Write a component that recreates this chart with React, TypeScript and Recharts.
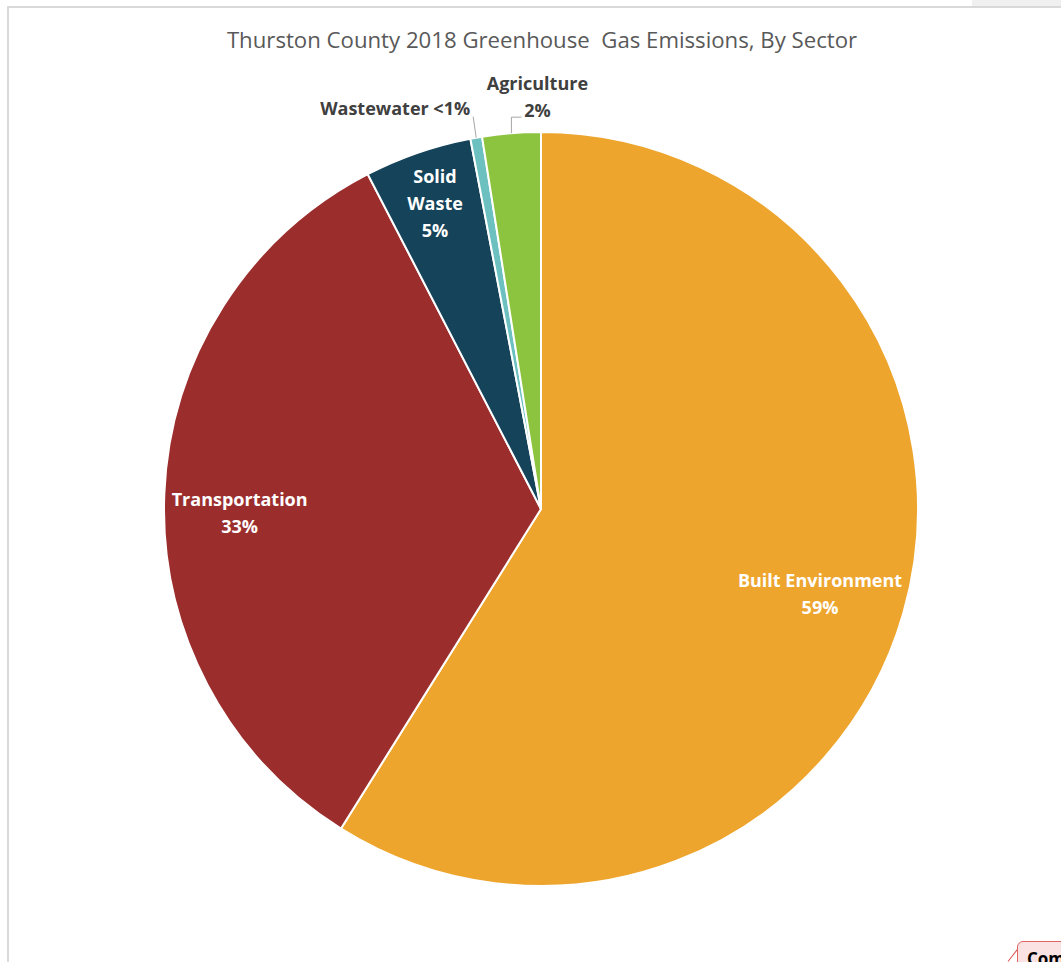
import { PieChart, Pie, Cell } from "recharts";

const sectors = ["Built Environment", "Transportation", "Solid Waste", "Wastewater", "Agriculture"];
const shares = [58.9, 33.5, 4.6, 0.5, 2.5];
const shareLabels = ["59%", "33%", "5%", "<1%", "2%"];
const colors = ["#EDA52D", "#9B2D2D", "#14435A", "#6CC0C0", "#8DC43F"];

const data = sectors.map((name, i) => ({ name, value: shares[i], pct: shareLabels[i] }));

const FONT = "'Open Sans', 'Noto Sans', sans-serif";
const RAD = Math.PI / 180;

// where the inside labels sit: share of outer radius, plus a small vertical nudge
const insideLabel: Record<string, { r: number; dy: number }> = {
  "Built Environment": { r: 0.77, dy: 4 },
  Transportation: { r: 0.8, dy: 16 },
  "Solid Waste": { r: 0.86, dy: 0 },
};

function renderLabel(props: any) {
  const { cx, cy, midAngle, outerRadius, index } = props;
  const d = data[index];
  const cos = Math.cos(-midAngle * RAD);
  const sin = Math.sin(-midAngle * RAD);
  const textStyle = { fontFamily: FONT, fontWeight: 700, fontSize: 18 };

  const inside = insideLabel[d.name];
  if (inside) {
    const r = outerRadius * inside.r;
    const x = cx + r * cos;
    const y = cy + r * sin + inside.dy;
    const lines = d.name === "Solid Waste" ? ["Solid", "Waste", d.pct] : [d.name, d.pct];
    const lh = 27;
    const top = y - ((lines.length - 1) * lh) / 2;
    return (
      <text key={d.name} x={x} textAnchor="middle" fill="#ffffff" style={textStyle}>
        {lines.map((l, k) => (
          <tspan key={k} x={x} y={top + k * lh} dominantBaseline="central">
            {l}
          </tspan>
        ))}
      </text>
    );
  }

  // outside labels with leader lines
  const ex = cx + outerRadius * cos;
  const ey = cy + outerRadius * sin;
  if (d.name === "Wastewater") {
    return (
      <g key={d.name}>
        <path d={`M${ex},${ey} L${ex - 3},${ey - 21}`} stroke="#a6a6a6" strokeWidth={1} fill="none" />
        <text x={ex - 6} y={ey - 30} textAnchor="end" dominantBaseline="central" fill="#404040" style={textStyle}>
          {`${d.name} ${d.pct}`}
        </text>
      </g>
    );
  }
  return (
    <g key={d.name}>
      <path d={`M${ex},${ey} L${ex},${ey - 16} L${ex + 10},${ey - 16}`} stroke="#a6a6a6" strokeWidth={1} fill="none" />
      <text x={ex + 26} y={ey - 50} textAnchor="middle" dominantBaseline="central" fill="#404040" style={textStyle}>
        {d.name}
      </text>
      <text x={ex + 26} y={ey - 23} textAnchor="middle" dominantBaseline="central" fill="#404040" style={textStyle}>
        {d.pct}
      </text>
    </g>
  );
}

export default function App() {
  return (
    <div
      style={{
        position: "absolute",
        left: 0,
        top: 0,
        width: 1061,
        height: 962,
        overflow: "hidden",
        background: "#ffffff",
      }}
    >
      <div style={{ position: "absolute", left: 972, top: 0, width: 89, height: 6, background: "#f0f0f0" }} />
      <div
        style={{
          position: "absolute",
          left: 7,
          top: 6,
          width: 1061,
          height: 962,
          borderTop: "2px solid #d9d9d9",
          borderLeft: "2px solid #d9d9d9",
        }}
      />
      <div style={{ position: "absolute", left: 0, top: 0, width: 1061, height: 962 }}>
        <PieChart width={1061} height={962} margin={{ top: 0, right: 0, bottom: 0, left: 0 }}>
          <text
            x={542}
            y={39}
            textAnchor="middle"
            dominantBaseline="central"
            fill="#595959"
            style={{ fontFamily: FONT, fontSize: 22.2, whiteSpace: "pre" }}
          >
            Thurston County 2018 Greenhouse  Gas Emissions, By Sector
          </text>
          <Pie
            data={data}
            dataKey="value"
            nameKey="name"
            cx={541}
            cy={509}
            outerRadius={377}
            startAngle={90}
            endAngle={-270}
            stroke="#ffffff"
            strokeWidth={2}
            label={renderLabel}
            labelLine={false}
            isAnimationActive={false}
          >
            {data.map((d, i) => (
              <Cell key={d.name} fill={colors[i]} />
            ))}
          </Pie>
        </PieChart>
      </div>
      <div
        style={{
          position: "absolute",
          left: 1008,
          top: 961,
          width: 15,
          height: 1,
          background: "#d9534f",
          transform: "rotate(-52deg)",
          transformOrigin: "left",
        }}
      />
      <div
        style={{
          position: "absolute",
          left: 1017,
          top: 941,
          width: 80,
          height: 40,
          background: "#fbe3e4",
          border: "1px solid #e06666",
          borderRadius: 6,
          fontFamily: FONT,
          fontWeight: 700,
          fontSize: 17,
          color: "#000",
          paddingLeft: 9,
          paddingTop: 5,
          boxSizing: "border-box",
        }}
      >
        Com
      </div>
    </div>
  );
}
